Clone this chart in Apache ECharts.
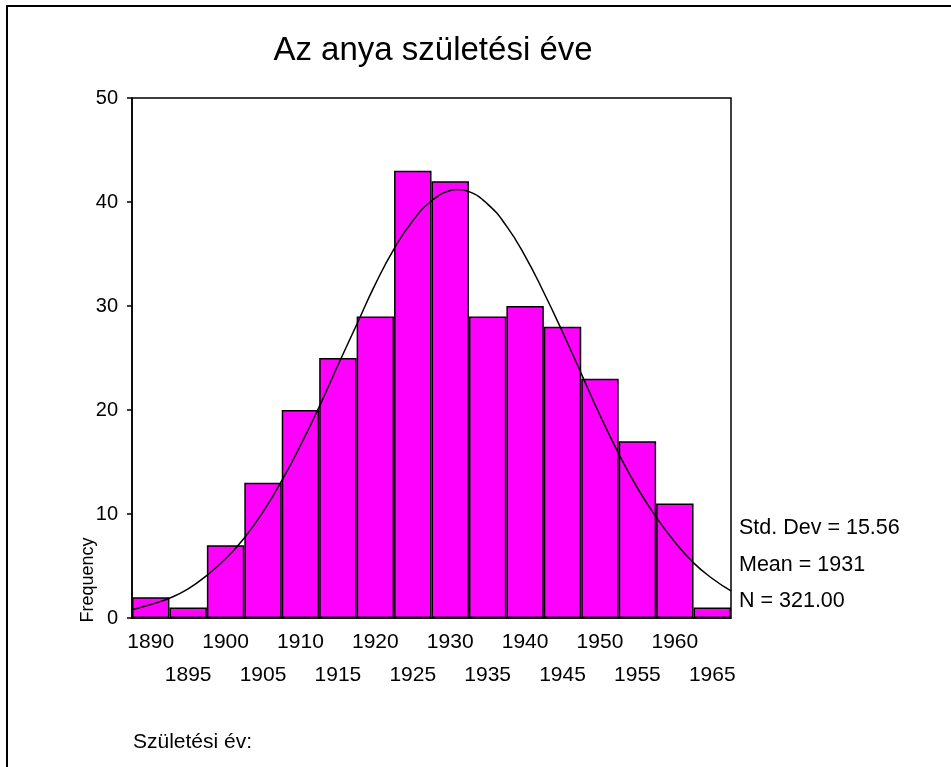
<!DOCTYPE html>
<html>
<head>
<meta charset="utf-8">
<script src="https://cdn.jsdelivr.net/npm/echarts@6/dist/echarts.min.js"></script>
<style>
  html, body { margin: 0; padding: 0; background: #fff; }
  #chart { width: 951px; height: 767px; }
</style>
</head>
<body>
<div id="chart"></div>
<script>
// bins of 5 years, labelled by centre
var years = ['1890', '1895', '1900', '1905', '1910', '1915', '1920', '1925',
             '1930', '1935', '1940', '1945', '1950', '1955', '1960', '1965'];
var counts = [2, 1, 7, 13, 20, 25, 29, 43, 42, 29, 30, 28, 23, 17, 11, 1];

// normal curve
var curveYears = [1887.5, 1890, 1892.5, 1895, 1897.5, 1900, 1902.5, 1905, 1907.5, 1910,
                  1912.5, 1915, 1917.5, 1920, 1922.5, 1925, 1927.5, 1930, 1931, 1932.5,
                  1935, 1937.5, 1940, 1942.5, 1945, 1947.5, 1950, 1952.5, 1955, 1957.5,
                  1960, 1962.5, 1965, 1967.5];
var curveValues = [0.8, 1.3, 1.9, 2.8, 4.1, 5.7, 7.7, 10.2, 13.2, 16.6,
                   20.3, 24.3, 28.2, 32.1, 35.5, 38.2, 40.1, 41.1, 41.2, 41.0,
                   39.8, 37.7, 34.8, 31.3, 27.5, 23.5, 19.5, 15.8, 12.5, 9.7,
                   7.3, 5.3, 3.8, 2.6];

var statLines = ['Std. Dev = 15.56', 'Mean = 1931', 'N = 321.00'];

var font = 'Arial, "Liberation Sans", sans-serif';
var chart = echarts.init(document.getElementById('chart'));

var curve = [];
for (var i = 0; i < curveYears.length; i++) {
  curve.push([curveYears[i], curveValues[i]]);
}

var option = {
  backgroundColor: '#fff',
  animation: false,
  grid: {
    left: 132, right: 220, top: 98, bottom: 149,
    show: true, borderColor: '#000', borderWidth: 1.5
  },
  xAxis: [
    {
      type: 'category',
      data: years,
      boundaryGap: true,
      axisLine: { lineStyle: { color: '#000', width: 1.5 } },
      axisTick: { alignWithLabel: true, length: 3, lineStyle: { color: '#555' } },
      axisLabel: {
        interval: 0,
        color: '#000',
        fontFamily: font,
        fontSize: 21,
        lineHeight: 33,
        margin: 8,
        formatter: function (v, idx) {
          return idx % 2 === 1 ? '\n' + v : v;
        }
      },
      splitLine: { show: false }
    },
    {
      type: 'value',
      min: 1887.5,
      max: 1967.5,
      show: false
    }
  ],
  yAxis: {
    type: 'value',
    min: 0,
    max: 50,
    interval: 10,
    axisLine: { show: true, lineStyle: { color: '#000', width: 1.5 } },
    axisTick: { show: true, length: 5, lineStyle: { color: '#000', width: 1.5 } },
    axisLabel: { color: '#000', fontFamily: font, fontSize: 20, margin: 14 },
    splitLine: { show: false }
  },
  series: [
    {
      type: 'bar',
      data: counts,
      xAxisIndex: 0,
      barWidth: '100%',
      barCategoryGap: 0,
      itemStyle: { color: '#ff00ff', borderColor: '#000', borderWidth: 1.5 }
    },
    {
      type: 'line',
      data: curve,
      xAxisIndex: 1,
      smooth: true,
      symbol: 'none',
      lineStyle: { color: '#000', width: 1.5 },
      z: 5
    }
  ],
  graphic: [
    {
      type: 'polyline',
      shape: { points: [[7, 767], [7, 6], [951, 6]] },
      style: { stroke: '#000', lineWidth: 2, fill: null }
    },
    {
      type: 'text', x: 433, y: 51,
      style: { text: 'Az anya születési éve', font: '33px ' + font, fill: '#000',
               textAlign: 'center', textVerticalAlign: 'middle' }
    },
    {
      type: 'text', rotation: Math.PI / 2, x: 88, y: 580,
      style: { text: 'Frequency', font: '18px ' + font, fill: '#000',
               textAlign: 'center', textVerticalAlign: 'middle' }
    },
    {
      type: 'text', x: 739, y: 528,
      style: { text: statLines[0], font: '21.5px ' + font, fill: '#000', textVerticalAlign: 'middle' }
    },
    {
      type: 'text', x: 739, y: 565,
      style: { text: statLines[1], font: '21.5px ' + font, fill: '#000', textVerticalAlign: 'middle' }
    },
    {
      type: 'text', x: 739, y: 601,
      style: { text: statLines[2], font: '21.5px ' + font, fill: '#000', textVerticalAlign: 'middle' }
    },
    {
      type: 'text', x: 133, y: 742,
      style: { text: 'Születési év:', font: '21px ' + font, fill: '#000', textVerticalAlign: 'middle' }
    }
  ]
};
chart.setOption(option);
</script>
</body>
</html>
